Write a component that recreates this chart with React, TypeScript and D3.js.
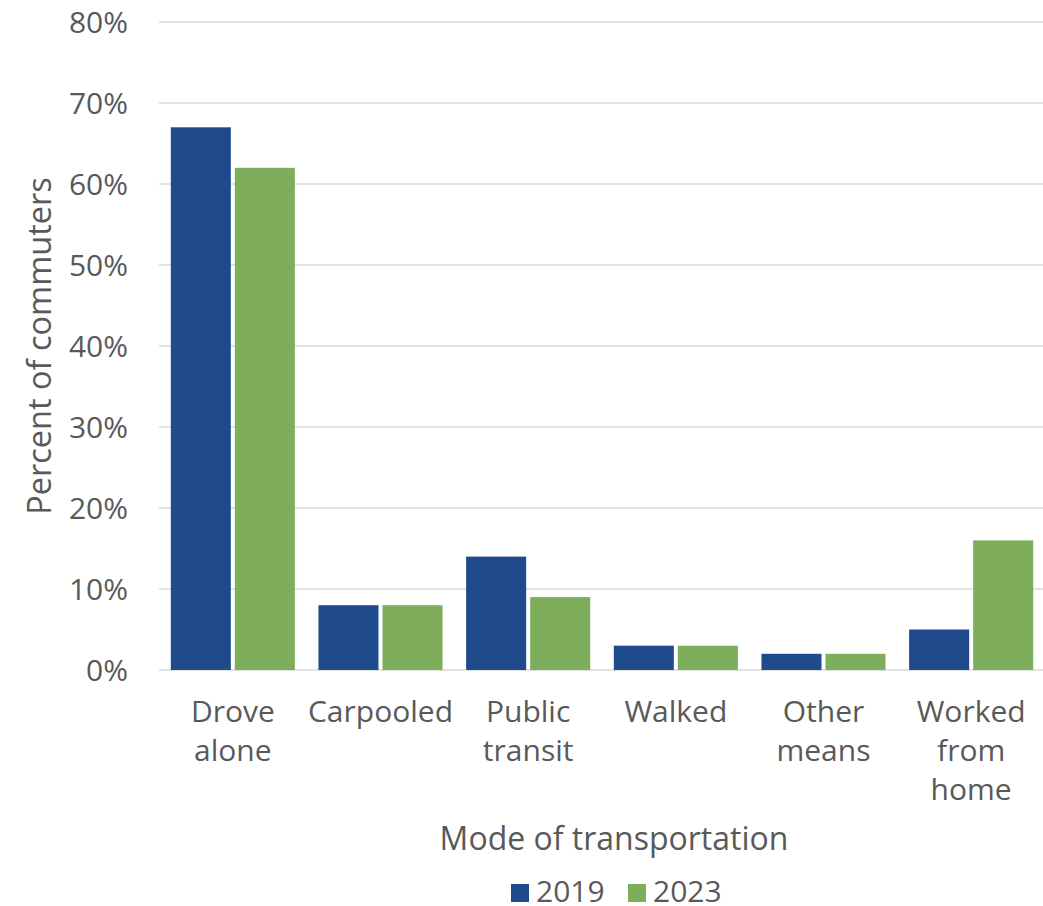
import React from "react";
import * as d3 from "d3";

const categories = ["Drove alone", "Carpooled", "Public transit", "Walked", "Other means", "Worked from home"];
const categoryLines = [["Drove", "alone"], ["Carpooled"], ["Public", "transit"], ["Walked"], ["Other", "means"], ["Worked", "from", "home"]];
const seriesNames = ["2019", "2023"];
const values2019 = [0.67, 0.08, 0.14, 0.03, 0.02, 0.05];
const values2023 = [0.62, 0.08, 0.09, 0.03, 0.02, 0.16];
const yTicks = [0, 0.1, 0.2, 0.3, 0.4, 0.5, 0.6, 0.7, 0.8];
const colors = ["#1F4A8B", "#7EAD5B"];

const W = 1043;
const H = 906;
const FONT = "'Open Sans', sans-serif";
const TEXT = "#595959";

export default function App() {
  const x0 = d3.scaleBand<string>().domain(categories).range([159, 1045]).paddingInner(0).paddingOuter(0);
  const bw = x0.bandwidth();
  const groupPad = 11.8;
  const x1 = d3.scaleBand<string>().domain(seriesNames).range([groupPad, bw - groupPad]).paddingInner(1 / 16).paddingOuter(0);
  const y = d3.scaleLinear().domain([0, 0.8]).range([670, 22]);
  const fmt = d3.format(".0%");
  const seriesValues = [values2019, values2023];

  return (
    <div style={{ position: "absolute", left: 0, top: 0 }}>
      <svg width={W} height={H} style={{ display: "block", background: "#fff" }}>
        {yTicks.map((t) => (
          <g key={t}>
            <line x1={159} x2={W} y1={y(t)} y2={y(t)} stroke="#D9D9D9" strokeWidth={1.6} />
            <text x={128} y={y(t)} dy="0.36em" textAnchor="end" fontFamily={FONT} fontSize={30} fill={TEXT}>
              {fmt(t)}
            </text>
          </g>
        ))}
        {categories.map((c, i) => (
          <g key={c} transform={`translate(${x0(c)},0)`}>
            {seriesNames.map((s, j) => (
              <rect
                key={s}
                x={x1(s)}
                y={y(seriesValues[j][i])}
                width={x1.bandwidth()}
                height={y(0) - y(seriesValues[j][i])}
                fill={colors[j]}
              />
            ))}
            {categoryLines[i].map((ln, k) => (
              <text
                key={k}
                x={bw / 2}
                y={722 + k * 39}
                textAnchor="middle"
                fontFamily={FONT}
                fontSize={30}
                fill={TEXT}
              >
                {ln}
              </text>
            ))}
          </g>
        ))}
        <text
          transform={`translate(51,${(y(0) + y(0.8)) / 2}) rotate(-90)`}
          textAnchor="middle"
          fontFamily={FONT}
          fontSize={32.5}
          fill={TEXT}
        >
          Percent of commuters
        </text>
        <text x={614} y={850} textAnchor="middle" fontFamily={FONT} fontSize={32} fill={TEXT}>
          Mode of transportation
        </text>
        {seriesNames.map((s, j) => {
          const lx = [511, 628][j];
          return (
            <g key={s}>
              <rect x={lx} y={884} width={18} height={18} fill={colors[j]} />
              <text x={lx + 25} y={902} fontFamily={FONT} fontSize={30} fill={TEXT}>
                {s}
              </text>
            </g>
          );
        })}
      </svg>
    </div>
  );
}
